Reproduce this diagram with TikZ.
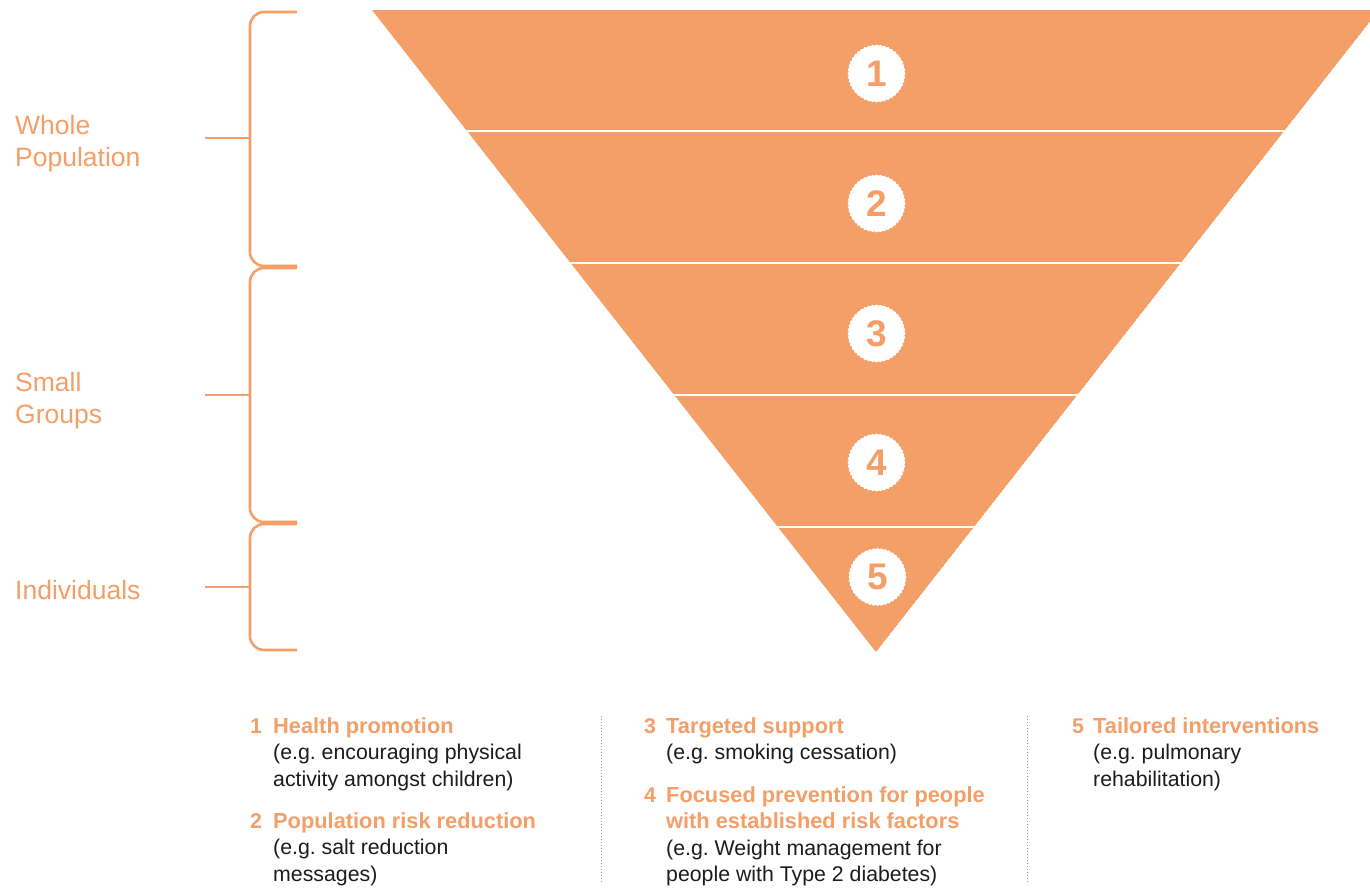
\documentclass[tikz,border=0pt]{standalone}
\usepackage{fontspec}
\setmainfont{Liberation Sans}
\usetikzlibrary{shapes.geometric}
\definecolor{org}{HTML}{F49E68}
\definecolor{txt}{HTML}{1C1C1C}
\frenchspacing
\tikzset{
  brk/.style={draw=org, line width=2.6pt, rounded corners=14pt},
  badge/.style={star, star points=44, star point ratio=1.04, fill=white, draw=none,
    minimum size=58pt, inner sep=0pt, text=org,
    font={\fontsize{37}{37}\selectfont\bfseries}},
  side/.style={anchor=base west, inner sep=0pt, align=left, text=org,
    font={\fontsize{26.5}{32}\selectfont}},
  num/.style={anchor=base west, inner sep=0pt, text=org,
    font={\fontsize{21.3}{26.5}\selectfont\bfseries}},
  item/.style={anchor=base west, inner sep=0pt, align=left, text=txt,
    font={\fontsize{21.3}{26.5}\selectfont}},
  sep/.style={draw=gray!80, dotted, line width=1pt}
}
\newcommand{\hdr}[1]{{\fontsize{21.8}{26.5}\selectfont\bfseries\color{org}#1}}
\begin{document}
\begin{tikzpicture}[x=1pt, y=-1pt]
\useasboundingbox (0,0) rectangle (1370,887);
% funnel
\begin{scope}
  \clip (372,10) -- (1370,10) -- (1370,21.5) -- (876,652) -- cycle;
  \fill[org] (372,10) -- (1370,10) -- (1370,21.5) -- (876,652) -- cycle;
  \foreach \yy in {131,263,395,527} \draw[white, line width=2.6pt] (300,\yy) -- (1400,\yy);
\end{scope}
% badges
\node[badge] (c1) at (876.5,73.5) {1};
\node[badge] (c2) at (876.5,203.5) {2};
\node[badge] (c3) at (876.5,333.5) {3};
\node[badge] (c4) at (876.5,462.5) {4};
\node[badge] (c5) at (877.5,577) {5};
% brackets
\draw[brk] (297,12) -- (250,12) -- (250,266) -- (297,266);
\draw[brk] (297,268) -- (250,268) -- (250,522) -- (297,522);
\draw[brk] (297,524) -- (250,524) -- (250,650) -- (297,650);
\coordinate (t1) at (250,138);
\coordinate (t2) at (250,395);
\coordinate (t3) at (250,587);
\draw[draw=org, line width=2pt] (t1) -- ++(-45,0);
\draw[draw=org, line width=2pt] (t2) -- ++(-45,0);
\draw[draw=org, line width=2pt] (t3) -- ++(-45,0);
% side labels (anchored at the baseline of the last line)
\node[side] (l1) at (15,166) {Whole\\Population};
\node[side] (l2) at (15,423) {Small\\Groups};
\node[side] (l3) at (15,599) {Individuals};
% legend (anchored at the baseline of the last line)
\node[num] (n1) at (250,733) {1};
\node[item] (i1) at (273,786) {\hdr{Health promotion}\\(e.g. encouraging physical\\activity amongst children)};
\node[num] (n2) at (250,828) {2};
\node[item] (i2) at (273,881) {\hdr{Population risk reduction}\\(e.g. salt reduction\\messages)};
\node[num] (n3) at (644,733) {3};
\node[item] (i3) at (666,759.5) {\hdr{Targeted support}\\(e.g. smoking cessation)};
\node[num] (n4) at (644,802) {4};
\node[item] (i4) at (666,881.5) {\hdr{Focused prevention for people}\\\hdr{with established risk factors}\\(e.g. Weight management for\\people with Type 2 diabetes)};
\node[num] (n5) at (1072,733) {5};
\node[item] (i5) at (1093,786) {\hdr{Tailored interventions}\\(e.g. pulmonary\\rehabilitation)};
% separators
\coordinate (s1a) at (601,716); \coordinate (s1b) at (601,882);
\coordinate (s2a) at (1027,716); \coordinate (s2b) at (1027,882);
\draw[sep] (s1a) -- (s1b);
\draw[sep] (s2a) -- (s2b);
\end{tikzpicture}
\end{document}
